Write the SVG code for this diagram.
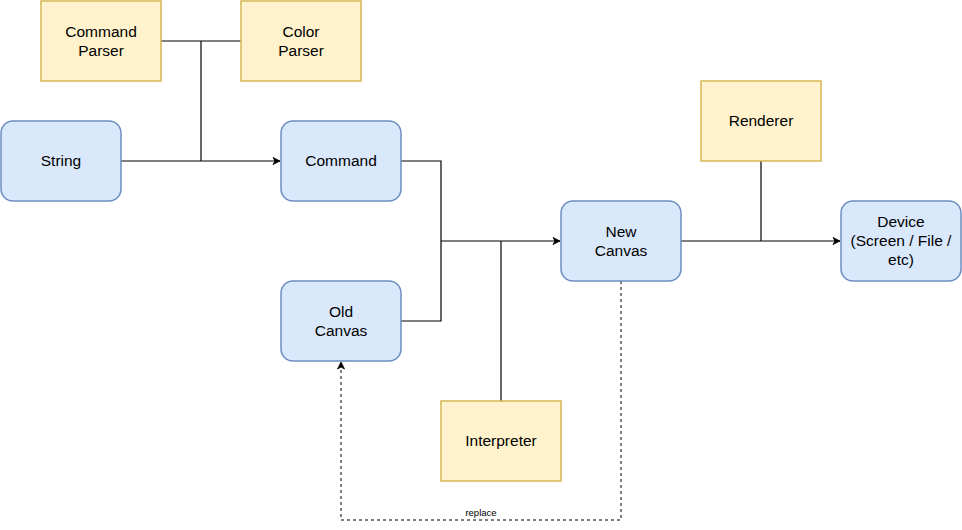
<svg xmlns="http://www.w3.org/2000/svg" width="962" height="530" viewBox="0 0 962 530">
<defs>
<style>
.b{fill:#dae8fc;stroke:#6c8ebf;stroke-width:1.5}
.y{fill:#fff2cc;stroke:#d6b656;stroke-width:1.5}
.t{font-family:"Liberation Sans",Arial,sans-serif;font-size:15.5px;fill:#000;text-anchor:middle}
.l{fill:none;stroke:#000;stroke-width:1.2}
.d{fill:none;stroke:#000;stroke-width:1;stroke-dasharray:3,3}
.lb{font-family:"Liberation Sans",Arial,sans-serif;font-size:9.5px;fill:#000;text-anchor:middle}
</style>
<marker id="a" markerWidth="10" markerHeight="10" refX="8" refY="5" orient="auto" markerUnits="userSpaceOnUse">
<path d="M1,1.5 L8,5 L1,8.5 L3,5 Z" fill="#000" stroke="#000" stroke-width="0.8"/>
</marker>
</defs>
<rect width="962" height="530" fill="#fff"/>
<g id="connectors">
<path class="l" d="M161,41 H241"/>
<path class="l" d="M201,41 V161"/>
<path class="l" d="M121,161 H280" marker-end="url(#a)"/>
<path class="l" d="M401,161 H441 V321 H401"/>
<path class="l" d="M441,241 H560" marker-end="url(#a)"/>
<path class="l" d="M501,401 V241"/>
<path class="l" d="M681,241 H840" marker-end="url(#a)"/>
<path class="l" d="M761,161 V241"/>
<path class="d" d="M621,281 V520 H341 V362" marker-end="url(#a)"/>
<text class="lb" x="481" y="516">replace</text>
</g>
<g id="command-parser"><rect class="y" x="41" y="1" width="120" height="80"/><text class="t" x="101" y="37">Command</text><text class="t" x="101" y="56">Parser</text></g>
<g id="color-parser"><rect class="y" x="241" y="1" width="120" height="80"/><text class="t" x="301" y="37">Color</text><text class="t" x="301" y="56">Parser</text></g>
<g id="string"><rect class="b" x="1" y="121" width="120" height="80" rx="12"/><text class="t" x="61" y="166">String</text></g>
<g id="command"><rect class="b" x="281" y="121" width="120" height="80" rx="12"/><text class="t" x="341" y="166">Command</text></g>
<g id="old-canvas"><rect class="b" x="281" y="281" width="120" height="80" rx="12"/><text class="t" x="341" y="317">Old</text><text class="t" x="341" y="336">Canvas</text></g>
<g id="new-canvas"><rect class="b" x="561" y="201" width="120" height="80" rx="12"/><text class="t" x="621" y="237">New</text><text class="t" x="621" y="256">Canvas</text></g>
<g id="device"><rect class="b" x="841" y="201" width="120" height="80" rx="12"/><text class="t" x="901" y="227">Device</text><text class="t" x="901" y="246">(Screen / File /</text><text class="t" x="901" y="265">etc)</text></g>
<g id="renderer"><rect class="y" x="701" y="81" width="120" height="80"/><text class="t" x="761" y="126">Renderer</text></g>
<g id="interpreter"><rect class="y" x="441" y="401" width="120" height="80"/><text class="t" x="501" y="446">Interpreter</text></g>
</svg>
